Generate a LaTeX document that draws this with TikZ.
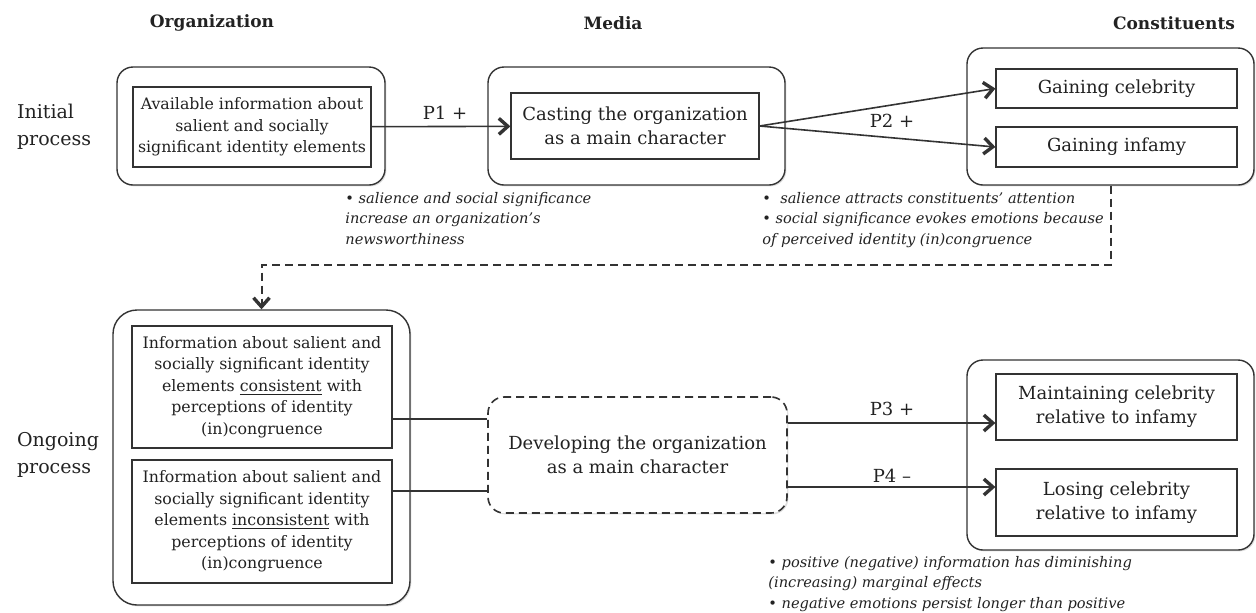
\documentclass[tikz,border=0pt]{standalone}
\usepackage{fontspec}
\setmainfont{DejaVu Serif}
\usetikzlibrary{arrows.meta,shadows}
\definecolor{ink}{HTML}{333333}
\definecolor{txt}{HTML}{222222}
\tikzset{
  outer/.style={draw=ink, fill=white, rounded corners=8pt, line width=0.7pt,
    drop shadow={shadow xshift=0.7pt, shadow yshift=-0.7pt, opacity=0.25}},
  inner/.style={draw=ink, fill=white, line width=0.6pt, align=center, inner sep=1pt, text=txt},
  bigtxt/.style={font=\fontsize{9}{12}\selectfont},
  smalltxt/.style={font=\fontsize{7.9}{10.8}\selectfont},
  head/.style={font=\bfseries\fontsize{8.5}{10}\selectfont, text=txt},
  side/.style={anchor=west, align=left, font=\fontsize{9.5}{13.5}\selectfont, text=txt},
  note/.style={anchor=north west, align=left, inner sep=0pt, text=txt,
    font=\fontsize{7.3}{10.2}\selectfont\itshape},
  plabel/.style={font=\fontsize{9}{11}\selectfont, text=txt},
  chev/.tip={Straight Barb[length=4.5pt,width=8pt,line width=1.7pt]},
  arr/.style={draw=ink, line width=0.8pt, -chev},
  link/.style={draw=ink, line width=0.8pt},
  dashes/.style={dash pattern=on 4pt off 2.5pt},
  backline/.style={draw=ink, line width=1pt, dashes, -chev}
}
\begin{document}
\begin{tikzpicture}[x=0.5pt, y=-0.5pt]
		\useasboundingbox (0,0) rectangle (1256,612);
		%%%%%%%%%%%%%
		\node[head] (hOrg) at (212,23) {Organization};
		\node[head] (hMed) at (613,23) {Media};
		\node[head] (hCon) at (1174,23) {Constituents};
		\node[side] (lInit) at (10,127) {Initial\\process};
		\node[side] (lOng) at (10,455) {Ongoing\\process};
		%%%%%%%%%%%%%
		\node[outer, minimum width=134pt, minimum height=59pt] (orgA) at (251,126) {};
		\node[outer, minimum width=148.5pt, minimum height=59pt] (medA) at (636.5,126) {};
		\node[outer, minimum width=143.5pt, minimum height=68.5pt] (conA) at (1110.5,116.5) {};
		\node[inner, smalltxt, minimum width=119pt, minimum height=40pt] (info) at (252,127) {Available information about\\salient and socially\\significant identity elements};
		\node[inner, bigtxt, minimum width=124pt, minimum height=33pt] (cast) at (635,126) {Casting the organization\\as a main character};
		\node[inner, bigtxt, minimum width=120.5pt, minimum height=19.5pt] (celeb) at (1116.5,88.5) {Gaining celebrity};
		\node[inner, bigtxt, minimum width=120.5pt, minimum height=20pt] (infamy) at (1116.5,147) {Gaining infamy};
		\node[plabel] (p1) at (445,113) {P1 +};
		\node[plabel] (p2) at (892,121) {P2 +};
		\node[note] (noteA) at (345,192) {• salience and social significance\\increase an organization’s\\newsworthiness};
		\node[note] (noteB) at (762,192) {•\ \ salience attracts constituents’ attention\\• social significance evokes emotions because\\of perceived identity (in)congruence};
		%%%%%%%%%%%%%
		\node[outer, rounded corners=12pt, minimum width=148.5pt, minimum height=147.5pt] (orgB) at (261.5,457.5) {};
		\node[outer, rounded corners=8pt, dashes, line width=0.8pt, minimum width=149.5pt, minimum height=58pt] (devel) at (637.5,455) {};
		\node[bigtxt, text=txt, align=center] (develTxt) at (637.5,455) {Developing the organization\\as a main character};
		\node[outer, minimum width=143.5pt, minimum height=95pt] (conB) at (1110.5,455) {};
		\node[inner, smalltxt, minimum width=130pt, minimum height=61pt] (consist) at (262,387) {Information about salient and\\socially significant identity\\elements \underline{consistent} with\\perceptions of identity\\(in)congruence};
		\node[inner, smalltxt, minimum width=130pt, minimum height=61.5pt] (incons) at (262,521.5) {Information about salient and\\socially significant identity\\elements \underline{inconsistent} with\\perceptions of identity\\(in)congruence};
		\node[inner, bigtxt, minimum width=120.5pt, minimum height=33pt] (maint) at (1116.5,407) {Maintaining celebrity\\relative to infamy};
		\node[inner, bigtxt, minimum width=120.5pt, minimum height=33.5pt] (losing) at (1116.5,502.5) {Losing celebrity\\relative to infamy};
		\node[plabel] (p3) at (892,409) {P3 +};
		\node[plabel] (p4) at (892,476) {P4 –};
		\node[note] (noteC) at (768,556) {• positive (negative) information has diminishing\\(increasing) marginal effects\\• negative emotions persist longer than positive};
		%%%%%%%%%%%%%
		\coordinate (bend) at (0,265);
		\draw [arr] (info) to (cast);
		\draw [arr] (cast.east) to (celeb.west);
		\draw [arr] (cast.east) to (infamy.west);
		\draw [backline] (conA.south) -- (conA.south |- bend) -| (orgB.north);
		\draw [link] ([yshift=18pt]devel.west) -- ([yshift=18pt]devel.west -| consist.east);
		\draw [link] ([yshift=-18pt]devel.west) -- ([yshift=-18pt]devel.west -| incons.east);
		\draw [arr] ([yshift=16pt]devel.east) -- ([yshift=16pt]devel.east -| maint.west);
		\draw [arr] ([yshift=-16pt]devel.east) -- ([yshift=-16pt]devel.east -| losing.west);
		%%%%%%%%%%%%%%
	\end{tikzpicture}
\end{document}
